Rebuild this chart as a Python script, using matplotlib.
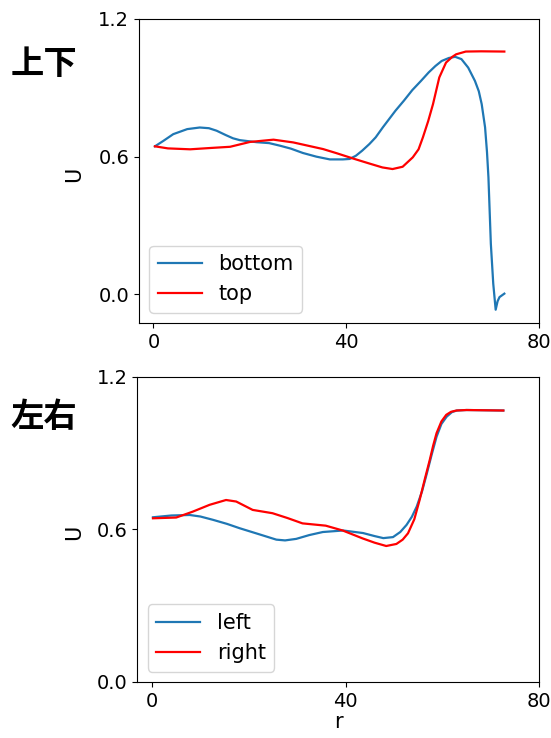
import matplotlib
matplotlib.use("Agg")
import matplotlib.pyplot as plt

# panneau haut : bottom / top
r_bottom = [0.3, 2.0, 4.1, 7.0, 9.6, 11.5, 13.1, 15.0, 16.5, 17.9, 21.4, 24.0, 26.2, 28.5,
            31.0, 33.8, 36.6, 39.3, 40.7, 42.0, 43.3, 44.8, 46.1, 47.6, 50.2, 52.0, 53.7,
            55.5, 57.1, 58.5, 59.8, 61.3, 62.6, 63.9, 65.3, 66.7, 67.5, 68.1, 68.8, 69.2,
            69.5, 70.0, 70.5, 71.0, 71.4, 71.8, 72.8]
u_bottom = [0.645, 0.668, 0.698, 0.720, 0.727, 0.724, 0.713, 0.694, 0.680, 0.672, 0.663, 0.659,
            0.648, 0.635, 0.616, 0.600, 0.588, 0.588, 0.590, 0.604, 0.626, 0.655, 0.684, 0.728,
            0.800, 0.845, 0.890, 0.930, 0.967, 0.995, 1.017, 1.030, 1.035, 1.025, 0.988, 0.930,
            0.885, 0.829, 0.728, 0.620, 0.510, 0.220, 0.046, -0.067, -0.030, -0.012, 0.003]
r_top = [0.3, 3.0, 7.6, 12.0, 15.9, 20.0, 24.9, 29.0, 35.2, 38.0, 41.4, 44.8, 47.5, 49.6,
         51.7, 53.8, 55.0, 55.9, 57.0, 58.0, 59.3, 60.7, 62.0, 62.8, 64.8, 68.0, 72.8]
u_top = [0.645, 0.636, 0.632, 0.638, 0.643, 0.664, 0.674, 0.662, 0.633, 0.615, 0.592, 0.570,
         0.553, 0.546, 0.556, 0.597, 0.632, 0.684, 0.755, 0.829, 0.945, 1.010, 1.035, 1.046,
         1.058, 1.059, 1.058]

# panneau bas : left / right
r_left = [0.2, 4.0, 7.8, 10.0, 12.6, 15.5, 18.1, 22.0, 25.7, 27.5, 29.8, 32.5, 35.3, 39.5,
          43.6, 46.0, 47.8, 49.8, 51.3, 52.6, 53.7, 54.7, 55.8, 56.8, 57.8, 58.8, 59.8,
          60.9, 62.0, 63.0, 65.0, 72.6]
u_left = [0.648, 0.655, 0.657, 0.651, 0.638, 0.622, 0.605, 0.582, 0.560, 0.557, 0.563, 0.578,
          0.590, 0.596, 0.586, 0.574, 0.566, 0.570, 0.590, 0.618, 0.650, 0.690, 0.750, 0.821,
          0.895, 0.965, 1.015, 1.044, 1.062, 1.068, 1.070, 1.068]
r_right = [0.2, 5.0, 8.4, 11.9, 15.3, 17.4, 20.8, 24.9, 28.0, 31.1, 35.9, 39.4, 43.5, 46.0,
           48.4, 50.5, 51.8, 52.9, 54.2, 55.3, 56.4, 57.4, 58.1, 58.8, 59.8, 60.8, 61.8,
           62.9, 65.0, 72.6]
u_right = [0.644, 0.647, 0.670, 0.697, 0.716, 0.710, 0.677, 0.664, 0.645, 0.624, 0.615, 0.596,
           0.565, 0.548, 0.535, 0.543, 0.560, 0.585, 0.640, 0.716, 0.800, 0.874, 0.930, 0.979,
           1.025, 1.051, 1.063, 1.068, 1.070, 1.068]

plt.rcParams['xtick.labelsize'] = 14
plt.rcParams['ytick.labelsize'] = 14
plt.rcParams['axes.labelsize'] = 15
plt.rcParams['legend.fontsize'] = 15

fig = plt.figure(figsize=(5.51, 7.38), dpi=100)

ax1 = fig.add_axes([0.2523, 0.5623, 0.726, 0.412])
ax1.plot(r_bottom, u_bottom, color='#1f77b4', lw=1.6, label='bottom')
ax1.plot(r_top, u_top, color='red', lw=1.6, label='top')
ax1.set_xlim(-3, 80)
ax1.set_ylim(-0.125, 1.2)
ax1.set_xticks([0, 40, 80])
ax1.set_yticks([0.0, 0.6, 1.2])
ax1.set_ylabel('U')
ax1.yaxis.set_label_coords(-0.138, 0.49)
ax1.legend(loc='lower left', handlelength=2.1)

ax2 = fig.add_axes([0.2495, 0.0759, 0.729, 0.4133])
ax2.plot(r_left, u_left, color='#1f77b4', lw=1.6, label='left')
ax2.plot(r_right, u_right, color='red', lw=1.6, label='right')
ax2.set_xlim(-3, 80)
ax2.set_ylim(0, 1.2)
ax2.set_xticks([0, 40, 80])
ax2.set_yticks([0.0, 0.6, 1.2])
ax2.set_ylabel('U')
ax2.yaxis.set_label_coords(-0.133, 0.49)
ax2.set_xlabel('r', labelpad=1)
ax2.legend(loc='lower left', handlelength=2.1)

# titres à gauche
cjk = ['Noto Sans CJK SC', 'DejaVu Sans']
fig.text(0.079, 0.912, '上下', family=cjk, fontsize=24, fontweight='bold', ha='center', va='center')
fig.text(0.079, 0.434, '左右', family=cjk, fontsize=24, fontweight='bold', ha='center', va='center')

fig.savefig('out.png', dpi=100)
